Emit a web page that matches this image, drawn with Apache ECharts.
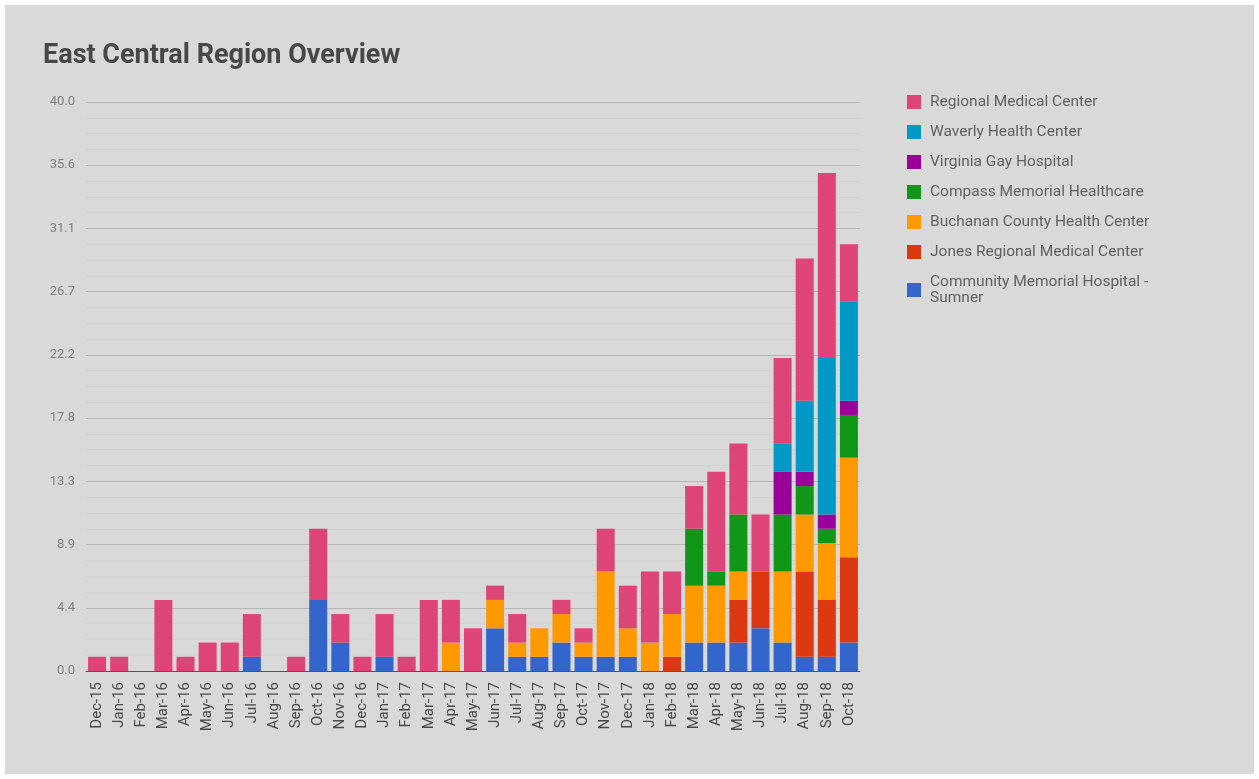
<!DOCTYPE html>
<html>
<head>
<meta charset="utf-8">
<title>East Central Region Overview</title>
<script src="https://cdn.jsdelivr.net/npm/echarts@6/dist/echarts.min.js"></script>
<style>
  html, body { margin: 0; padding: 0; background: #ffffff; width: 1259px; height: 779px; overflow: hidden; }
  #card { position: absolute; left: 5px; top: 5px; width: 1249px; height: 769px; background: #d9d9d9; }
  #chart { position: absolute; left: 0; top: 0; width: 1259px; height: 779px; }
</style>
</head>
<body>
<div id="card"></div>
<div id="chart"></div>
<script>
// Month labels along the x axis
const months = [
  'Dec-15', 'Jan-16', 'Feb-16', 'Mar-16', 'Apr-16', 'May-16', 'Jun-16', 'Jul-16', 'Aug-16', 'Sep-16',
  'Oct-16', 'Nov-16', 'Dec-16', 'Jan-17', 'Feb-17', 'Mar-17', 'Apr-17', 'May-17', 'Jun-17', 'Jul-17',
  'Aug-17', 'Sep-17', 'Oct-17', 'Nov-17', 'Dec-17', 'Jan-18', 'Feb-18', 'Mar-18', 'Apr-18', 'May-18',
  'Jun-18', 'Jul-18', 'Aug-18', 'Sep-18', 'Oct-18'
];

// Monthly counts per facility (stacked bottom to top)
const communitySumner = [0, 0, 0, 0, 0, 0, 0, 1, 0, 0, 5, 2, 0, 1, 0, 0, 0, 0, 3, 1, 1, 2, 1, 1, 1, 0, 0, 2, 2, 2, 3, 2, 1, 1, 2];
const jonesRegional   = [0, 0, 0, 0, 0, 0, 0, 0, 0, 0, 0, 0, 0, 0, 0, 0, 0, 0, 0, 0, 0, 0, 0, 0, 0, 0, 1, 0, 0, 3, 4, 0, 6, 4, 6];
const buchananCounty  = [0, 0, 0, 0, 0, 0, 0, 0, 0, 0, 0, 0, 0, 0, 0, 0, 2, 0, 2, 1, 2, 2, 1, 6, 2, 2, 3, 4, 4, 2, 0, 5, 4, 4, 7];
const compassMemorial = [0, 0, 0, 0, 0, 0, 0, 0, 0, 0, 0, 0, 0, 0, 0, 0, 0, 0, 0, 0, 0, 0, 0, 0, 0, 0, 0, 4, 1, 4, 0, 4, 2, 1, 3];
const virginiaGay     = [0, 0, 0, 0, 0, 0, 0, 0, 0, 0, 0, 0, 0, 0, 0, 0, 0, 0, 0, 0, 0, 0, 0, 0, 0, 0, 0, 0, 0, 0, 0, 3, 1, 1, 1];
const waverlyHealth   = [0, 0, 0, 0, 0, 0, 0, 0, 0, 0, 0, 0, 0, 0, 0, 0, 0, 0, 0, 0, 0, 0, 0, 0, 0, 0, 0, 0, 0, 0, 0, 2, 5, 11, 7];
const regionalMedical = [1, 1, 0, 5, 1, 2, 2, 3, 0, 1, 5, 2, 1, 3, 1, 5, 3, 3, 1, 2, 0, 1, 1, 3, 3, 5, 3, 3, 7, 5, 4, 6, 10, 13, 4];

// Y axis tick labels
const yTickLabels = ['0.0', '4.4', '8.9', '13.3', '17.8', '22.2', '26.7', '31.1', '35.6', '40.0'];

const seriesDefs = [
  { name: 'Community Memorial Hospital - Sumner', data: communitySumner, color: '#3366cc' },
  { name: 'Jones Regional Medical Center',        data: jonesRegional,   color: '#dc3912' },
  { name: 'Buchanan County Health Center',        data: buchananCounty,  color: '#ff9900' },
  { name: 'Compass Memorial Healthcare',          data: compassMemorial, color: '#109618' },
  { name: 'Virginia Gay Hospital',                data: virginiaGay,     color: '#990099' },
  { name: 'Waverly Health Center',                data: waverlyHealth,   color: '#0099c6' },
  { name: 'Regional Medical Center',              data: regionalMedical, color: '#dd4477' }
];

const chart = echarts.init(document.getElementById('chart'), null, { renderer: 'canvas' });

const yMax = 40;
const yStep = yMax / 9;

chart.setOption({
  backgroundColor: 'transparent',
  animation: false,
  textStyle: { fontFamily: 'Roboto, "Noto Sans", sans-serif' },
  title: {
    text: 'East Central Region Overview',
    left: 38,
    top: 38,
    textStyle: { fontSize: 27, fontWeight: 'bold', color: '#474747', fontFamily: 'Roboto, sans-serif' }
  },
  legend: {
    orient: 'vertical',
    left: 902,
    top: 89,
    icon: 'rect',
    itemWidth: 14,
    itemHeight: 14,
    itemGap: 14,
    data: seriesDefs.map(s => s.name).reverse(),
    formatter: name => name === 'Community Memorial Hospital - Sumner'
      ? 'Community Memorial Hospital -\nSumner' : name,
    textStyle: { fontSize: 15.5, color: '#616161', lineHeight: 16, padding: [0, 0, 0, 4] }
  },
  grid: { left: 86, right: 399, top: 102, bottom: 108, containLabel: false },
  xAxis: {
    type: 'category',
    data: months,
    axisTick: { show: false },
    axisLine: { show: true, lineStyle: { color: '#555555', width: 1 } },
    axisLabel: { rotate: 90, interval: 0, margin: 11, fontSize: 15, color: '#484848' }
  },
  yAxis: {
    type: 'value',
    min: 0,
    max: yMax,
    interval: yStep,
    axisLine: { show: false },
    axisTick: { show: false },
    axisLabel: {
      margin: 11,
      fontSize: 13,
      color: '#808080',
      formatter: (v, i) => yTickLabels[i] !== undefined ? yTickLabels[i] : v.toFixed(1)
    },
    splitLine: { lineStyle: { color: '#b5b5b5', width: 1 } },
    minorTick: { show: false, splitNumber: 4 },
    minorSplitLine: { show: true, lineStyle: { color: '#d2d2d2', width: 1 } }
  },
  series: seriesDefs.map(s => ({
    name: s.name,
    type: 'bar',
    stack: 'total',
    barWidth: 18,
    data: s.data,
    itemStyle: { color: s.color },
    emphasis: { disabled: true }
  }))
});
</script>
</body>
</html>
